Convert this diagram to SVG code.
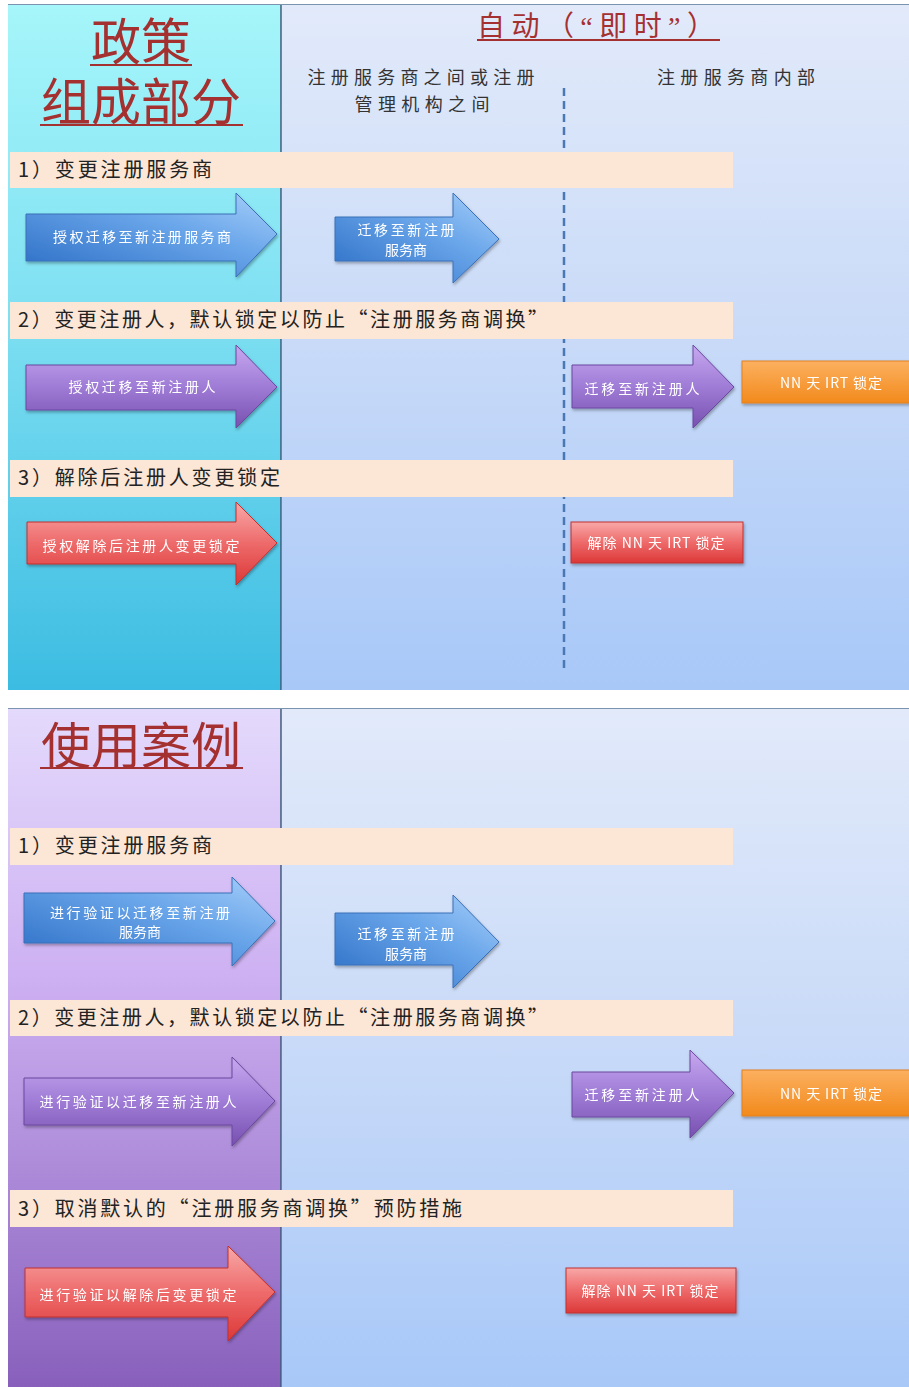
<svg xmlns="http://www.w3.org/2000/svg" width="909" height="1387" viewBox="0 0 909 1387">
<defs>
<linearGradient id="gCyan" x1="0" y1="0" x2="0" y2="1"><stop offset="0" stop-color="#a6f6fa"/><stop offset="0.45" stop-color="#7fe0f2"/><stop offset="1" stop-color="#3cbce2"/></linearGradient>
<linearGradient id="gLav" x1="0" y1="0" x2="0" y2="1"><stop offset="0" stop-color="#e4dafc"/><stop offset="0.4" stop-color="#cdb0f2"/><stop offset="1" stop-color="#8860bc"/></linearGradient>
<linearGradient id="gRight" x1="0" y1="0" x2="0" y2="1"><stop offset="0" stop-color="#e2eafa"/><stop offset="0.5" stop-color="#c8daf8"/><stop offset="1" stop-color="#a8c8f8"/></linearGradient>
<linearGradient id="gBlue" x1="0" y1="1" x2="1" y2="0"><stop offset="0" stop-color="#2a6cc4"/><stop offset="0.6" stop-color="#6aa6ea"/><stop offset="1" stop-color="#a8d0fa"/></linearGradient>
<linearGradient id="gPurple" x1="0" y1="0" x2="0" y2="1"><stop offset="0" stop-color="#c8a8f0"/><stop offset="0.5" stop-color="#9f7cd6"/><stop offset="1" stop-color="#7850b0"/></linearGradient>
<linearGradient id="gRed" x1="0" y1="0" x2="0" y2="1"><stop offset="0" stop-color="#f8a8a8"/><stop offset="0.5" stop-color="#ee6a6a"/><stop offset="1" stop-color="#dc3838"/></linearGradient>
<linearGradient id="gOrange" x1="0" y1="0" x2="0" y2="1"><stop offset="0" stop-color="#fcb060"/><stop offset="1" stop-color="#f28a1c"/></linearGradient>
<filter id="sh" x="-10%" y="-10%" width="130%" height="140%"><feDropShadow dx="1" dy="2" stdDeviation="1.5" flood-color="#000" flood-opacity="0.3"/></filter>
</defs>
<style>
.title{font-family:'Liberation Serif','Noto Sans CJK SC',serif;fill:#a53030}
.hdr{font-family:'Noto Sans CJK SC',sans-serif;font-size:18px;fill:#333}
.band{fill:#fce6d6}
.bandt{font-family:'Noto Sans CJK SC',sans-serif;font-size:20px;fill:#222}
.at{font-family:'Noto Sans CJK SC','Liberation Sans',sans-serif;font-size:14px;fill:#fff;text-anchor:middle}
.blue{fill:url(#gBlue);stroke:#3a70b8;stroke-width:1}
.purple{fill:url(#gPurple);stroke:#6a48a0;stroke-width:1}
.red{fill:url(#gRed);stroke:#c03030;stroke-width:1}
.orange{fill:url(#gOrange);stroke:#e08020;stroke-width:1}
.ul{stroke:#a53030;stroke-width:2}
</style>

<!-- Panel 1 background -->
<g id="panel1">
<rect x="282" y="4" width="627" height="686" fill="url(#gRight)"/>
<rect x="8" y="4" width="273" height="686" fill="url(#gCyan)"/>
<line x1="281" y1="4" x2="281" y2="690" stroke="#3c5a78" stroke-width="1.5"/>
<line x1="8" y1="4.5" x2="909" y2="4.5" stroke="#7a94b0" stroke-width="1"/>
</g>
<!-- Panel 2 background -->
<g id="panel2">
<rect x="282" y="708" width="627" height="679" fill="url(#gRight)"/>
<rect x="8" y="708" width="273" height="679" fill="url(#gLav)"/>
<line x1="281" y1="708" x2="281" y2="1387" stroke="#3c5a78" stroke-width="1.5"/>
<line x1="8" y1="708.5" x2="909" y2="708.5" stroke="#7a94b0" stroke-width="1"/>
</g>

<!-- Titles and headers -->
<g id="title1">
<text class="title" x="141" y="60" font-size="50" text-anchor="middle">政策</text>
<line class="ul" x1="90" y1="65" x2="192" y2="65"/>
<text class="title" x="141" y="120" font-size="50" text-anchor="middle">组成部分</text>
<line class="ul" x1="40" y1="125" x2="243" y2="125"/>
</g>
<g id="header-auto">
<text class="title" x="477" y="36" font-size="28" textLength="238" lengthAdjust="spacing">自动（“即时”）</text>
<line class="ul" x1="477" y1="40" x2="720" y2="40"/>
</g>
<g id="header-cols">
<text class="hdr" x="421" y="84" text-anchor="middle" textLength="227" lengthAdjust="spacing">注册服务商之间或注册</text>
<text class="hdr" x="422" y="111" text-anchor="middle" textLength="135" lengthAdjust="spacing">管理机构之间</text>
<text class="hdr" x="736" y="84" text-anchor="middle" textLength="158" lengthAdjust="spacing">注册服务商内部</text>
</g>
<g id="divider">
<line x1="564" y1="88" x2="564" y2="668" stroke="#4a78b4" stroke-width="2.5" stroke-dasharray="8,5"/>
</g>
<g id="title2">
<text class="title" x="141" y="764" font-size="50" text-anchor="middle">使用案例</text>
<line class="ul" x1="40" y1="768" x2="243" y2="768"/>
</g>

<!-- Bands panel 1 -->
<g id="band1-1"><rect class="band" x="10" y="152" width="723" height="36"/><text class="bandt" x="18" y="177" textLength="194" lengthAdjust="spacing">1）变更注册服务商</text></g>
<g id="band1-2"><rect class="band" x="10" y="302" width="723" height="37"/><text class="bandt" x="18" y="327" textLength="530" lengthAdjust="spacing">2）变更注册人，默认锁定以防止“注册服务商调换”</text></g>
<g id="band1-3"><rect class="band" x="10" y="460" width="723" height="37"/><text class="bandt" x="18" y="485" textLength="262" lengthAdjust="spacing">3）解除后注册人变更锁定</text></g>

<!-- Bands panel 2 -->
<g id="band2-1"><rect class="band" x="10" y="828" width="723" height="37"/><text class="bandt" x="18" y="853" textLength="194" lengthAdjust="spacing">1）变更注册服务商</text></g>
<g id="band2-2"><rect class="band" x="10" y="1000" width="723" height="36"/><text class="bandt" x="18" y="1025" textLength="530" lengthAdjust="spacing">2）变更注册人，默认锁定以防止“注册服务商调换”</text></g>
<g id="band2-3"><rect class="band" x="10" y="1190" width="723" height="37"/><text class="bandt" x="18" y="1216" textLength="444" lengthAdjust="spacing">3）取消默认的“注册服务商调换”预防措施</text></g>

<!-- Panel 1 shapes -->
<g id="p1-a1" filter="url(#sh)">
<path class="blue" d="M26 214 H236 V193 L277 234 L236 277 V261 H26 Z"/>
<text class="at" x="142" y="242" textLength="178" lengthAdjust="spacing">授权迁移至新注册服务商</text>
</g>
<g id="p1-a2" filter="url(#sh)">
<path class="blue" d="M335 217 H453 V193 L499 239 L453 283 V261 H335 Z"/>
<text class="at" x="406" y="235" textLength="97" lengthAdjust="spacing">迁移至新注册</text>
<text class="at" x="406" y="255">服务商</text>
</g>
<g id="p1-b1" filter="url(#sh)">
<path class="purple" d="M26 365 H236 V345 L277 387 L236 428 V410 H26 Z"/>
<text class="at" x="142" y="392" textLength="147" lengthAdjust="spacing">授权迁移至新注册人</text>
</g>
<g id="p1-b2" filter="url(#sh)">
<path class="purple" d="M572 365 H693 V345 L734 387 L693 428 V408 H572 Z"/>
<text class="at" x="642" y="394" textLength="115" lengthAdjust="spacing">迁移至新注册人</text>
</g>
<g id="p1-b3" filter="url(#sh)">
<rect class="orange" x="742" y="361" width="170" height="42"/>
<text class="at" x="831" y="388" textLength="102" lengthAdjust="spacing">NN 天 IRT 锁定</text>
</g>
<g id="p1-c1" filter="url(#sh)">
<path class="red" d="M27 522 H236 V502 L277 543 L236 585 V564 H27 Z"/>
<text class="at" x="141" y="551" textLength="197" lengthAdjust="spacing">授权解除后注册人变更锁定</text>
</g>
<g id="p1-c2" filter="url(#sh)">
<rect class="red" x="571" y="522" width="172" height="41"/>
<text class="at" x="656" y="548" textLength="137" lengthAdjust="spacing">解除 NN 天 IRT 锁定</text>
</g>

<!-- Panel 2 shapes -->
<g id="p2-a1" filter="url(#sh)">
<path class="blue" d="M24 893 H232 V877 L275 921 L232 966 V943 H24 Z"/>
<text class="at" x="140" y="918" textLength="180" lengthAdjust="spacing">进行验证以迁移至新注册</text>
<text class="at" x="140" y="937">服务商</text>
</g>
<g id="p2-a2" filter="url(#sh)">
<path class="blue" d="M335 913 H453 V895 L499 942 L453 988 V965 H335 Z"/>
<text class="at" x="406" y="939" textLength="97" lengthAdjust="spacing">迁移至新注册</text>
<text class="at" x="406" y="959">服务商</text>
</g>
<g id="p2-b1" filter="url(#sh)">
<path class="purple" d="M24 1078 H232 V1057 L275 1101 L232 1146 V1125 H24 Z"/>
<text class="at" x="138" y="1107" textLength="197" lengthAdjust="spacing">进行验证以迁移至新注册人</text>
</g>
<g id="p2-b2" filter="url(#sh)">
<path class="purple" d="M572 1072 H690 V1050 L734 1093 L690 1138 V1117 H572 Z"/>
<text class="at" x="642" y="1100" textLength="115" lengthAdjust="spacing">迁移至新注册人</text>
</g>
<g id="p2-b3" filter="url(#sh)">
<rect class="orange" x="742" y="1070" width="170" height="46"/>
<text class="at" x="831" y="1099" textLength="102" lengthAdjust="spacing">NN 天 IRT 锁定</text>
</g>
<g id="p2-c1" filter="url(#sh)">
<path class="red" d="M25 1268 H228 V1246 L275 1292 L228 1341 V1317 H25 Z"/>
<text class="at" x="138" y="1300" textLength="197" lengthAdjust="spacing">进行验证以解除后变更锁定</text>
</g>
<g id="p2-c2" filter="url(#sh)">
<rect class="red" x="566" y="1268" width="170" height="45"/>
<text class="at" x="650" y="1296" textLength="137" lengthAdjust="spacing">解除 NN 天 IRT 锁定</text>
</g>
<g id="connectors"></g>
</svg>
